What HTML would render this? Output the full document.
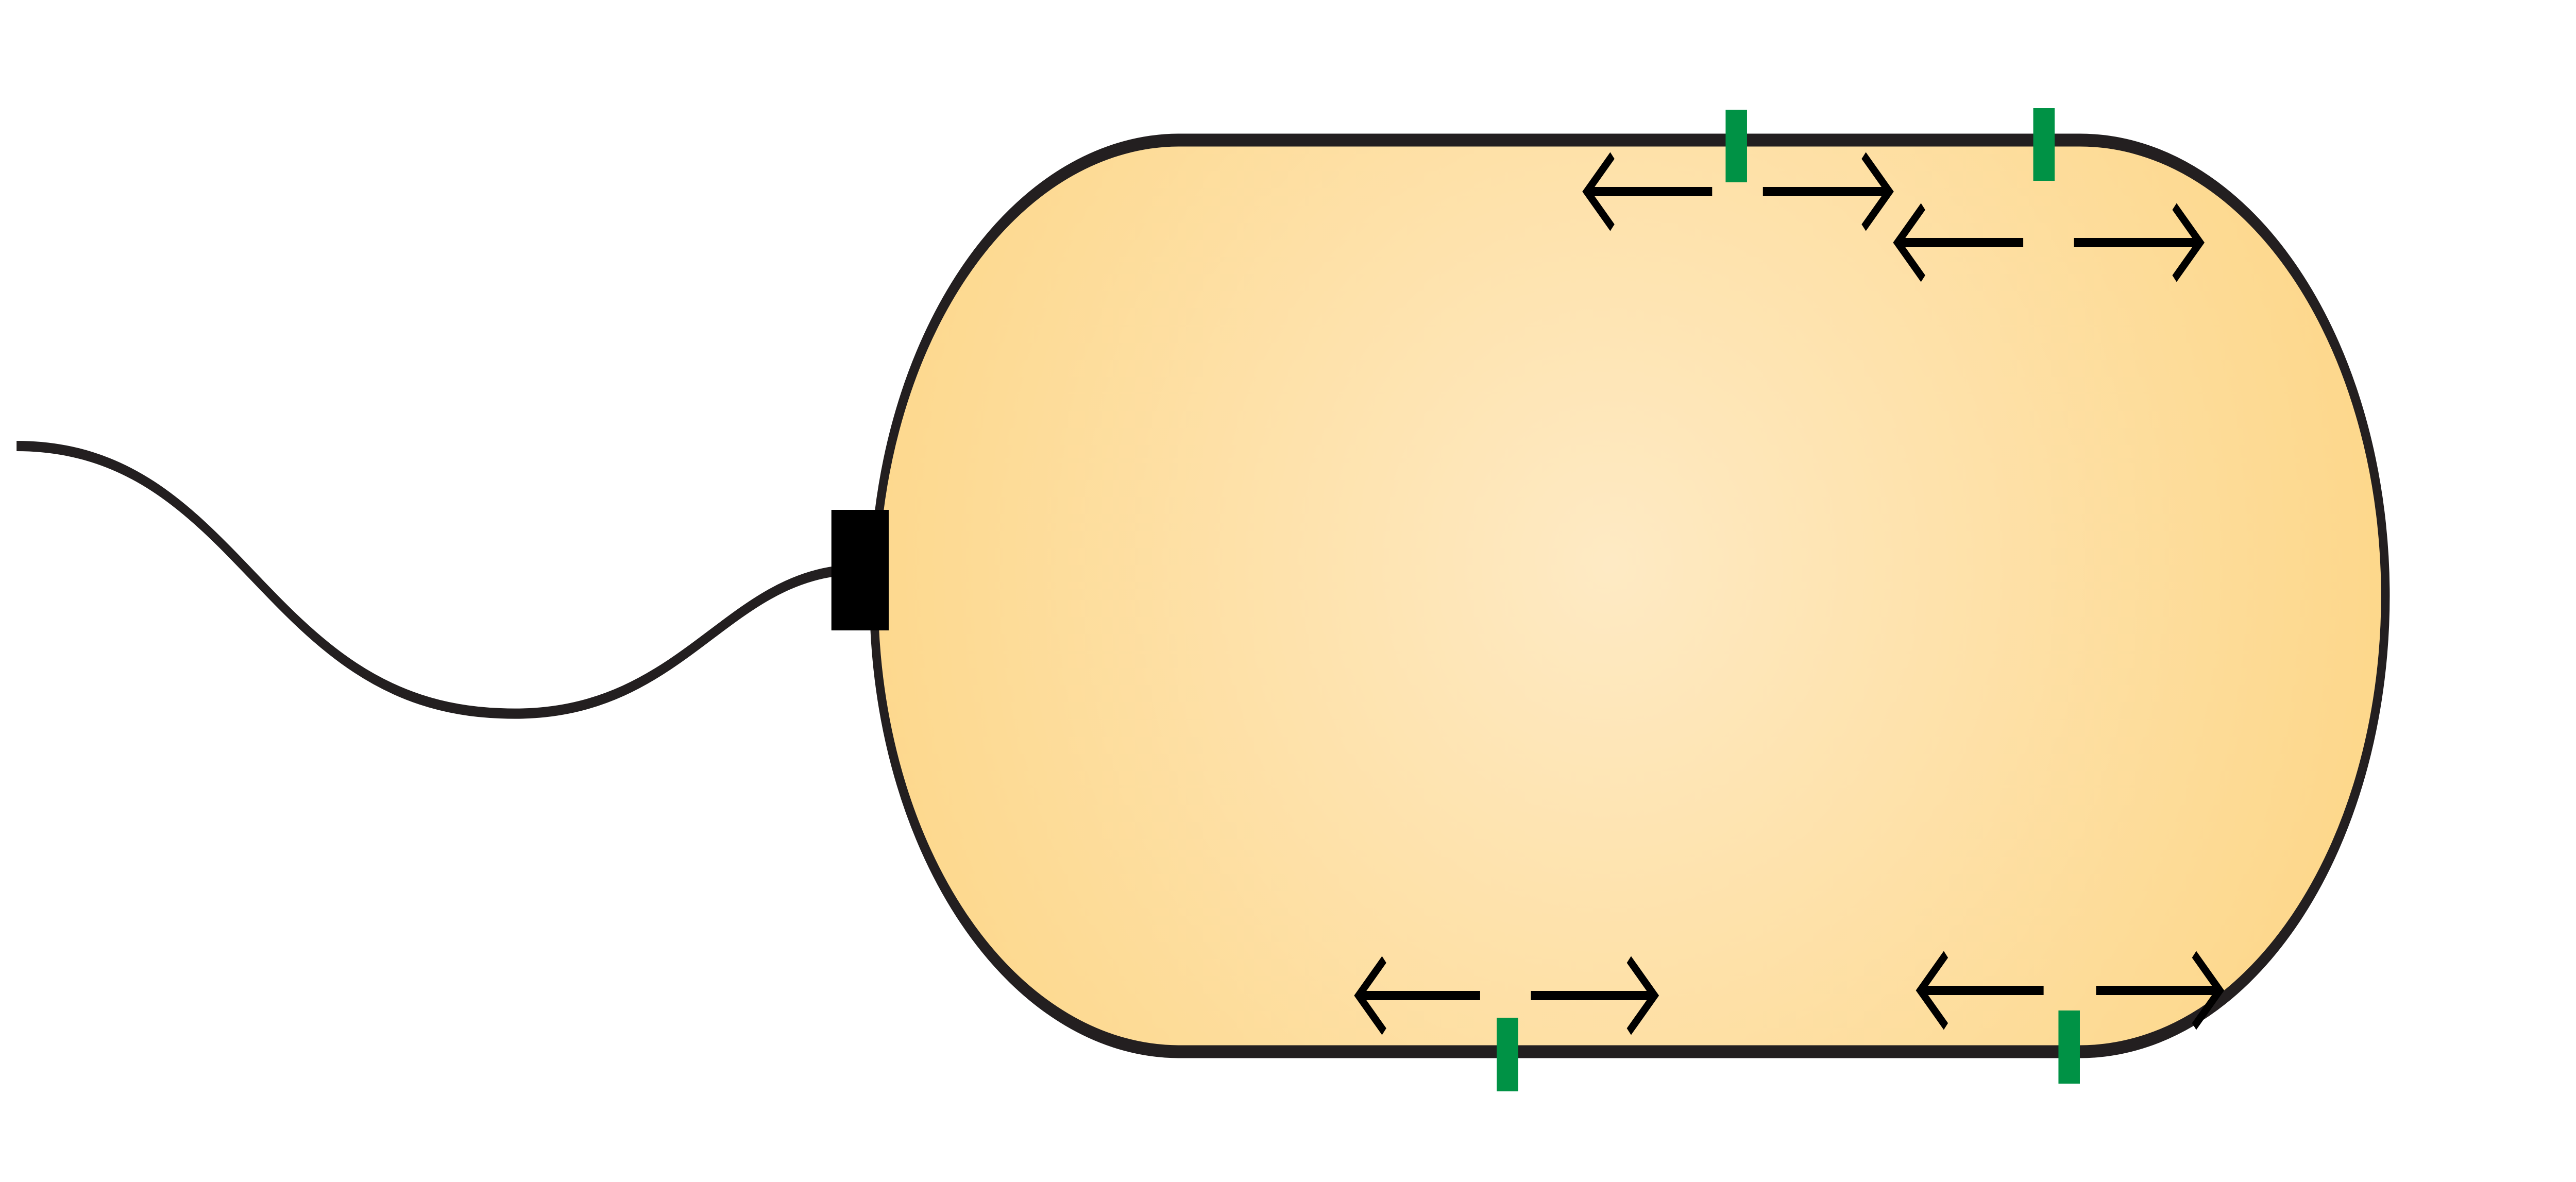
<!DOCTYPE html>
<html><head><meta charset="utf-8"><style>html,body{margin:0;padding:0;background:#fff;width:100%;height:100%;overflow:hidden}svg{display:block;width:100vw;height:100vh}</style></head>
<body>
<svg viewBox="0 0 7461 2295" preserveAspectRatio="none" xmlns="http://www.w3.org/2000/svg">
<defs>
<radialGradient id="g" cx="4663" cy="1095" r="2300" gradientUnits="userSpaceOnUse" gradientTransform="translate(4663 1095) scale(1 0.75) translate(-4663 -1095)">
<stop offset="0" stop-color="#feeac4"/><stop offset="1" stop-color="#fdd78a"/></radialGradient>
</defs>
<path d="M48 866 C700 866 760 1370 1450 1385 C1950 1400 2080 1140 2420 1109" fill="none" stroke="#231f20" stroke-width="20"/>
<rect x="2531" y="272" width="4378" height="1770" rx="885" ry="885" fill="url(#g)" stroke="#231f20" stroke-width="25"/>
<rect x="2408" y="990" width="166" height="234" fill="#000"/>
<g fill="none" stroke="#000" stroke-width="18">
<g><path d="M4598 372 H4959 M4670 302 L4596 372 L4670 442"/><path d="M5106 372 H5470 M5398 302 L5472 372 L5398 442"/></g>
<g><path d="M5498 471 H5860 M5570 401 L5496 471 L5570 541"/><path d="M6007 471 H6370 M6298 401 L6372 471 L6298 541"/></g>
<g><path d="M3937 1933 H4287 M4009 1863 L3935 1933 L4009 2003"/><path d="M4434 1933 H4790 M4718 1863 L4792 1933 L4718 2003"/></g>
<g><path d="M5564 1923 H5919 M5636 1853 L5562 1923 L5636 1993"/><path d="M6071 1923 H6427 M6355 1853 L6429 1923 L6355 1993"/></g>
</g>
<g fill="#009245">
<rect x="4998" y="213" width="62" height="141"/>
<rect x="5889" y="210" width="62" height="141"/>
<rect x="4335" y="1976" width="62" height="143"/>
<rect x="5962" y="1962" width="62" height="142"/>
</g>
</svg>
</body></html>
